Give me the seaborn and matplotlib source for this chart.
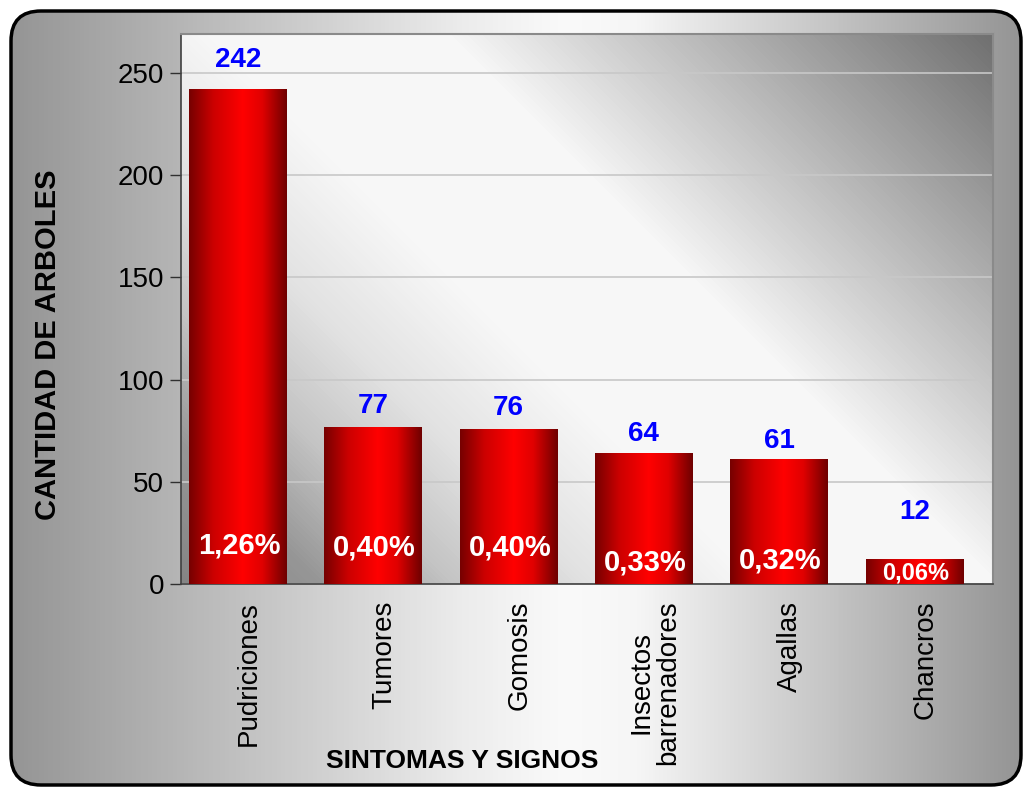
import numpy as np
import matplotlib
matplotlib.use("Agg")
import matplotlib.pyplot as plt
import seaborn as sns
from matplotlib.patches import FancyBboxPatch
from matplotlib.colors import LinearSegmentedColormap

# Daten aus dem Diagramm
categorias = ['Pudriciones', 'Tumores', 'Gomosis', 'Insectos\nbarrenadores', 'Agallas', 'Chancros']
cantidades = [242, 77, 76, 64, 61, 12]
porcentajes = ['1,26%', '0,40%', '0,40%', '0,33%', '0,32%', '0,06%']
y_ticks = [0, 50, 100, 150, 200, 250]

sns.set_style("white")
plt.rcParams['font.family'] = ['Liberation Sans', 'DejaVu Sans']
plt.rcParams['text.color'] = 'black'
plt.rcParams['xtick.color'] = 'black'
plt.rcParams['ytick.color'] = 'black'

W, H = 1027, 787
fig = plt.figure(figsize=(W / 100, H / 100), dpi=100)
fig.patch.set_facecolor('white')

# Hintergrund: abgerundeter Rahmen mit Farbverlauf
bg = fig.add_axes([0, 0, 1, 1], zorder=0)
bg.set_xlim(0, W)
bg.set_ylim(H, 0)
bg.axis('off')
rahmen = FancyBboxPatch((11, 11), 1010, 774, boxstyle="round,pad=0,rounding_size=30",
                        fc='none', ec='black', lw=2.5, zorder=3)
bg.add_patch(rahmen)
cmap_aussen = LinearSegmentedColormap.from_list(
    'aussen', [(0, '#939393'), (0.45, '#ececec'), (0.55, '#fafafa'), (0.62, '#f6f6f6'), (1, '#939393')])
im = bg.imshow(np.linspace(0, 1, 512)[None, :], extent=[0, W, H, 0], aspect='auto',
               cmap=cmap_aussen, zorder=1)
im.set_clip_path(rahmen)

# Plotbereich: diagonaler Verlauf
px_l, px_r, px_t, px_b = 181, 993, 34, 584
pw, ph = px_r - px_l, px_b - px_t
xx, rr = np.meshgrid(np.arange(pw), np.arange(ph))
u = (xx + (ph - rr)) / (pw + ph)
cmap_innen = LinearSegmentedColormap.from_list(
    'innen', [(0, '#858585'), (0.1, '#969696'), (0.2, '#c4c4c4'), (0.3, '#e2e2e2'),
              (0.42, '#f7f7f7'), (0.6, '#f7f7f7'), (1, '#707070')])
bg.imshow(u, extent=[px_l, px_r, px_b, px_t], aspect='auto', cmap=cmap_innen, zorder=2)
bg.set_xlim(0, W)
bg.set_ylim(H, 0)

# Hauptachse
ax = fig.add_axes([px_l / W, 1 - px_b / H, pw / W, ph / H], zorder=1)
ax.patch.set_alpha(0)

sns.barplot(x=categorias, y=cantidades, color='red', saturation=1, width=0.72,
            errorbar=None, ax=ax, zorder=3)

# Balken mit horizontalem Rotverlauf
cmap_rot = LinearSegmentedColormap.from_list(
    'rot', [(0, '#760000'), (0.25, '#cc0000'), (0.55, '#ff0000'), (0.75, '#e00000'), (1, '#6e0000')])
verlauf = np.linspace(0, 1, 256)[None, :]
for p in ax.patches:
    x0, w, h = p.get_x(), p.get_width(), p.get_height()
    p.set_facecolor('none')
    p.set_edgecolor('none')
    bi = ax.imshow(verlauf, extent=[x0, x0 + w, 0, h], aspect='auto', cmap=cmap_rot, zorder=3)
    bi.set_clip_path(p)

s = 0.08
ax.set_xlim(-0.5 + s, 5.5 + s)
ax.set_ylim(0, 269)
ax.set_aspect('auto')

ax.set_xticks([i + s for i in range(len(categorias))])
ax.set_xticklabels(categorias, rotation=90, fontsize=20, linespacing=1.05, color='black')
ax.set_xticks([i - 0.5 + s for i in range(len(categorias) + 1)], minor=True)
ax.tick_params(axis='x', which='major', length=0, pad=12)
ax.tick_params(axis='x', which='minor', direction='out', length=6, width=1, color='#303030')
ax.set_yticks(y_ticks)
ax.set_yticklabels([str(t) for t in y_ticks], fontsize=20, color='black')
ax.tick_params(axis='y', direction='out', length=8, width=1, color='#303030', pad=4, left=True)
ax.set_xlabel('')
ax.set_ylabel('')

ax.set_axisbelow(True)
ax.yaxis.grid(True, color='#c8c8c8', lw=1.2)
for side in ['left', 'bottom']:
    ax.spines[side].set_color('#404040')
    ax.spines[side].set_linewidth(1.2)
for side in ['top', 'right']:
    ax.spines[side].set_visible(True)
    ax.spines[side].set_color('#8a8a8a')
    ax.spines[side].set_linewidth(1.5)

# Werte oberhalb der Balken
abstand = [21, 15, 15, 14, 13, 34]
for i, v in enumerate(cantidades):
    ax.annotate(str(v), (i, v), xytext=(0, abstand[i]), textcoords='offset points',
                ha='center', va='center', color='#0000ff', fontsize=20, fontweight='bold')

# Prozentwerte in den Balken
pos_y = [19, 18, 18, 10.5, 11.3, 5.6]
groesse = [21, 21, 21, 21, 21, 17]
for i, pct in enumerate(porcentajes):
    ax.text(i + 0.01, pos_y[i], pct, ha='center', va='center', color='white',
            fontsize=groesse[i], fontweight='bold', zorder=5)

fig.text(48 / W, 1 - 345 / H, 'CANTIDAD DE ARBOLES', rotation=90, ha='center', va='center',
         fontsize=21, fontweight='bold', color='black')
fig.text(462 / W, 1 - 761 / H, 'SINTOMAS Y SIGNOS', ha='center', va='center',
         fontsize=19, fontweight='bold', color='black')

fig.savefig('out.png', dpi=100)
